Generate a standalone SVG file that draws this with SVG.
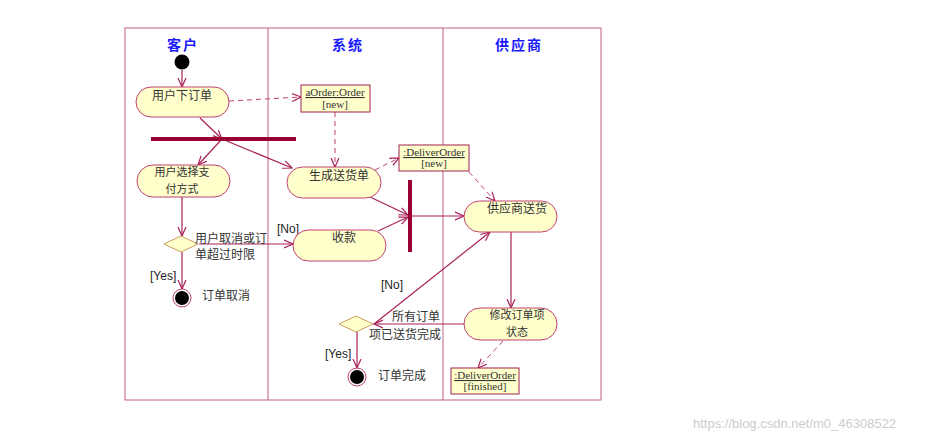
<svg xmlns="http://www.w3.org/2000/svg" width="925" height="440" viewBox="0 0 925 440">
<style>
.pill{fill:#ffffcc;stroke:#c04070;stroke-width:1}
.box{fill:#ffffcc;stroke:#a02050;stroke-width:1}
.dia{fill:#ffffcc;stroke:#c8a060;stroke-width:1}
.bar{fill:#990033}
.e{stroke:#a8205a;stroke-width:1.2;fill:none;marker-end:url(#a)}
.d{stroke:#c04070;stroke-width:1;fill:none;stroke-dasharray:5,4;marker-end:url(#a)}
.t{font-family:"Noto Sans CJK SC","Liberation Sans",sans-serif;font-size:12px;fill:#333;text-anchor:middle}
.t2{font-family:"Noto Sans CJK SC","Liberation Sans",sans-serif;font-size:11px;fill:#333;text-anchor:middle}
.tl{font-family:"Noto Sans CJK SC","Liberation Sans",sans-serif;font-size:12px;fill:#333}
.o{font-family:"Liberation Serif",serif;font-size:11px;fill:#333;text-anchor:middle}
.h{font-family:"Noto Sans CJK SC",serif;font-size:14px;font-weight:bold;fill:#1a1aff;text-anchor:middle;letter-spacing:2px}
.g{font-family:"Liberation Sans",sans-serif;font-size:12px;fill:#222}
</style>
<defs><marker id="a" markerWidth="10" markerHeight="10" refX="9" refY="5" orient="auto" markerUnits="userSpaceOnUse"><path d="M0,1 L9,5 L0,9" fill="none" stroke="#a8205a" stroke-width="1.2"/></marker></defs>
<rect width="925" height="440" fill="#fff"/>
<g id="frame" fill="none" stroke="#c06080"><rect x="125" y="28" width="476" height="372"/><line x1="268" y1="28" x2="268" y2="400"/><line x1="443" y1="28" x2="443" y2="400"/></g>
<text class="h" x="183" y="50">客户</text><text class="h" x="348" y="50">系统</text><text class="h" x="519" y="50">供应商</text>
<g id="connectors">
<path class="e" d="M182,70 L182,87"/>
<path class="e" d="M200,118 L222,139"/>
<path class="e" d="M222,139 L198,165"/>
<path class="e" d="M222,139 L292,168"/>
<path class="d" d="M229,101 L301,97"/>
<path class="d" d="M335,112 L335,167"/>
<path class="d" d="M375,170 L399,158"/>
<path class="d" d="M469,172 L495,201"/>
<path class="e" d="M370,197 L408,215"/>
<path class="e" d="M378,231 L408,217"/>
<path class="e" d="M412,216 L464,216"/>
<path class="e" d="M182,197 L182,236"/>
<path class="e" d="M199,244 L293,244"/>
<path class="e" d="M182,252 L182,289"/>
<path class="e" d="M511,232 L511,308"/>
<path class="e" d="M464,324 L374,324"/>
<path class="e" d="M374,324 L490,232"/>
<path class="e" d="M357,332 L357,368"/>
<path class="d" d="M503,341 L478,368"/>
</g>
<g id="start"><circle cx="182" cy="62" r="7.5" fill="#000"/></g>
<g id="n1"><rect class="pill" x="136" y="87" width="93" height="30" rx="15"/><text class="t" x="182" y="100">用户下订单</text></g>
<g id="o1"><rect class="box" x="301" y="85" width="69" height="27"/><text class="o" x="335" y="96" text-decoration="underline">aOrder:Order</text><text class="o" x="335" y="108">[new]</text></g>
<g id="fork"><rect class="bar" x="151" y="137" width="145" height="4"/></g>
<g id="n2"><rect class="pill" x="137" y="165" width="93" height="32" rx="16"/><text class="t2" x="182" y="176">用户选择支</text><text class="t2" x="182" y="193">付方式</text></g>
<g id="n3"><rect class="pill" x="287" y="167" width="94" height="31" rx="15.5"/><text class="t" x="339" y="180">生成送货单</text></g>
<g id="o2"><rect class="box" x="399" y="145" width="70" height="26"/><text class="o" x="434" y="156" text-decoration="underline">:DeliverOrder</text><text class="o" x="434" y="167">[new]</text></g>
<g id="join"><rect class="bar" x="408" y="180" width="4" height="72"/></g>
<g id="n4"><rect class="pill" x="464" y="201" width="93" height="31" rx="15.5"/><text class="t" x="517" y="213">供应商送货</text></g>
<g id="dec1"><polygon class="dia" points="164,244 181,236 198,244 181,252"/></g>
<text class="tl" x="195" y="243">用户取消或订</text><text class="tl" x="195" y="259">单超过时限</text>
<text class="g" x="277" y="233">[No]</text><text class="g" x="150" y="280">[Yes]</text>
<g id="n5"><rect class="pill" x="293" y="230" width="93" height="31" rx="15.5"/><text class="t" x="344" y="242">收款</text></g>
<g id="end1"><circle cx="182" cy="298" r="9" fill="#fff" stroke="#c04070"/><circle cx="182" cy="298" r="7" fill="#000"/><text class="tl" x="202" y="300">订单取消</text></g>
<g id="n6"><rect class="pill" x="464" y="308" width="93" height="32" rx="16"/><text class="t2" x="517" y="319">修改订单项</text><text class="t2" x="517" y="336">状态</text></g>
<g id="dec2"><polygon class="dia" points="339,324 356,316 373,324 356,332"/></g>
<text class="tl" x="392" y="321">所有订单</text><text class="tl" x="369" y="339">项已送货完成</text>
<text class="g" x="381" y="289">[No]</text><text class="g" x="325" y="358">[Yes]</text>
<g id="end2"><circle cx="357" cy="377" r="9" fill="#fff" stroke="#c04070"/><circle cx="357" cy="377" r="7" fill="#000"/><text class="tl" x="378" y="380">订单完成</text></g>
<g id="o3"><rect class="box" x="451" y="368" width="68" height="26"/><text class="o" x="485" y="379" text-decoration="underline">:DeliverOrder</text><text class="o" x="485" y="390">[finished]</text></g>
<text x="693" y="428" font-family="Liberation Sans,sans-serif" font-size="13" fill="#ccc">https://blog.csdn.net/m0_46308522</text>
</svg>
